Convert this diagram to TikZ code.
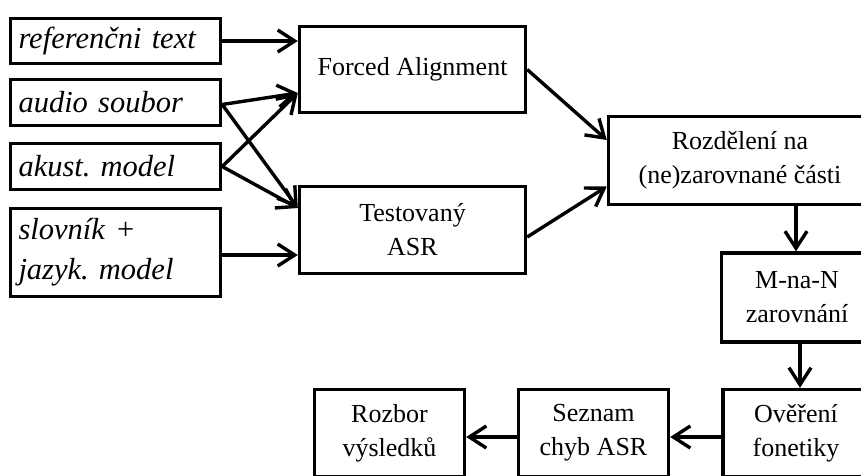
\documentclass[tikz,border=0pt]{standalone}
\usepackage{fontspec}
\setmainfont{Liberation Serif}
\usetikzlibrary{arrows.meta}
\frenchspacing
% italic face of the input boxes, with slightly wider word spaces
\newcommand\inputfacefont{\fontsize{30.5}{40}\selectfont\itshape
  \spaceskip=9pt plus 2pt minus 1pt\relax}
\begin{document}
\begin{tikzpicture}[x=1pt,y=-1pt,
  box/.style={draw,line width=3.4pt,inner sep=0pt,align=center,
    font=\fontsize{26}{34}\selectfont},
  inbox/.style={box,align=left,inner xsep=8pt,text width=194pt,
    font=\inputfacefont},
  flow/.style={line width=3.4pt,-{Straight Barb[length=17pt,width=22pt]}}]
\useasboundingbox (0,0) rectangle (861,475);
\clip (0,0) rectangle (861,475);

% inputs
\node[inbox,minimum height=45pt] (ref) at (115.5,41) {referenčni text};
\node[inbox,minimum height=46pt] (aud) at (115.5,102.5) {audio soubor};
\node[inbox,minimum height=46pt] (aku) at (115.5,166.5) {akust. model};
\node[inbox,minimum height=88pt] (slv) at (115.5,252.5) {slovník +\\jazyk. model};

% processing steps
\node[box,minimum width=226pt,minimum height=86pt] (fa) at (412.5,69.5) {Forced Alignment};
\node[box,minimum width=226pt,minimum height=87pt] (asr) at (412.5,230) {Testovaný\\ASR};
\node[box,minimum width=263pt,minimum height=88pt] (roz) at (740,160.5) {Rozdělení na\\(ne)zarovnané části};
\node[box,minimum width=151pt,minimum height=89pt] (mn) at (797,297.5) {M-na-N\\zarovnání};
\node[box,minimum width=146pt,minimum height=87pt] (ove) at (796,433) {Ověření\\fonetiky};
\node[box,minimum width=150pt,minimum height=87pt] (sez) at (593.5,433) {Seznam\\chyb ASR};
\node[box,minimum width=150pt,minimum height=87pt] (rzb) at (389.5,433) {Rozbor\\výsledků};

% connectors
\draw[flow] (ref.east) -- (ref.east -| fa.west);
\draw[flow] ([yshift=-2pt]aud.east) -- ([yshift=-23.5pt]fa.west);
\draw[flow] ([yshift=-2pt]aud.east) -- ([yshift=22pt]asr.west);
\draw[flow] (aku.east) -- ([yshift=-23.5pt]fa.west);
\draw[flow] (aku.east) -- ([yshift=22pt]asr.west);
\draw[flow] ([yshift=-2.5pt]slv.east) -- ([yshift=-2.5pt]slv.east -| asr.west);
\draw[flow] (fa.east) -- ([yshift=20.5pt]roz.west);
\draw[flow] ([yshift=-7pt]asr.east) -- ([yshift=-26pt]roz.west);
\draw[flow] ([xshift=-1pt]mn.north |- roz.south) -- ([xshift=-1pt]mn.north);
\draw[flow] ([xshift=3pt]mn.south) -- ([xshift=3pt]mn.south |- ove.north);
\draw[flow] ([yshift=-4pt]ove.west) -- ([yshift=-4pt]sez.east);
\draw[flow] ([yshift=-4pt]sez.west) -- ([yshift=-4pt]rzb.east);
\end{tikzpicture}
\end{document}
